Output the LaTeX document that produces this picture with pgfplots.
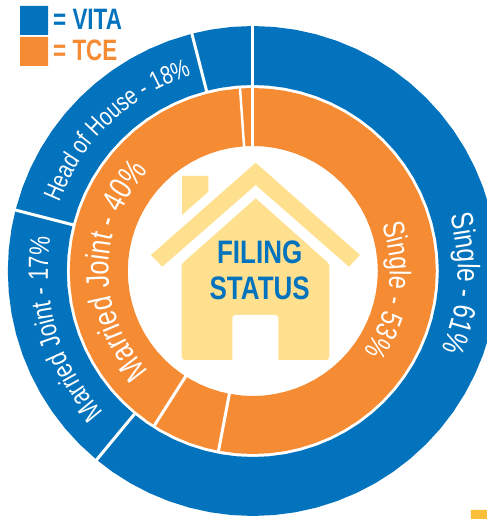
\documentclass[border=0pt]{standalone}
\usepackage{pgfplots}
\pgfplotsset{compat=1.18}
\usepackage{graphicx}
\usepackage{fontspec}
\usetikzlibrary{decorations.text}
\setmainfont[FakeStretch=0.78]{Liberation Sans}
\newfontfamily\narrowbold[FakeStretch=0.8]{Liberation Sans Bold}
\newfontfamily\legendbold[FakeStretch=0.76]{Liberation Sans Bold}
\definecolor{vita}{HTML}{0373BE}
\definecolor{tce}{HTML}{F58B33}
\definecolor{house}{HTML}{FEE08F}
\definecolor{mark}{HTML}{FDBF3A}
\begin{document}
\begin{tikzpicture}
\begin{axis}[
  name=main, at={(0,0)}, anchor=south west,
  scale only axis, width=487bp, height=519bp,
  xmin=-252.8, xmax=234.2, ymin=-248, ymax=271,
  hide axis, clip=true,
]
% outer ring (VITA): angle, radius
\addplot[fill=vita, draw=none, data cs=polar] coordinates {
(90,245)(85,245)(80,245)(75,245)(70,245)(65,245)(60,245)(55,245)(50,245)(45,245)(40,245)(35,245)(30,245)(25,245)(20,245)(15,245)(10,245)(5,245)(0,245)(-5,245)(-10,245)(-15,245)(-20,245)(-25,245)(-30,245)(-35,245)(-40,245)(-45,245)(-50,245)(-55,245)(-60,245)(-65,245)(-70,245)(-75,245)(-80,245)(-85,245)(-90,245)(-95,245)(-100,245)(-105,245)(-110,245)(-115,245)(-120,245)(-125,245)(-129.6,245)
(-129.6,186)(-125,186)(-120,186)(-115,186)(-110,186)(-105,186)(-100,186)(-95,186)(-90,186)(-85,186)(-80,186)(-75,186)(-70,186)(-65,186)(-60,186)(-55,186)(-50,186)(-45,186)(-40,186)(-35,186)(-30,186)(-25,186)(-20,186)(-15,186)(-10,186)(-5,186)(0,186)(5,186)(10,186)(15,186)(20,186)(25,186)(30,186)(35,186)(40,186)(45,186)(50,186)(55,186)(60,186)(65,186)(70,186)(75,186)(80,186)(85,186)(90,186)(90,245)};
\addplot[fill=vita, draw=none, data cs=polar] coordinates {
(230.4,245)(225,245)(220,245)(215,245)(210,245)(205,245)(200,245)(195,245)(190,245)(185,245)(180,245)(175,245)(170,245)(165.6,245)
(165.6,186)(170,186)(175,186)(180,186)(185,186)(190,186)(195,186)(200,186)(205,186)(210,186)(215,186)(220,186)(225,186)(230.4,186)(230.4,245)};
\addplot[fill=vita, draw=none, data cs=polar] coordinates {
(165.6,245)(160,245)(155,245)(150,245)(145,245)(140,245)(135,245)(130,245)(125,245)(120,245)(115,245)(110,245)(104.4,245)
(104.4,186)(110,186)(115,186)(120,186)(125,186)(130,186)(135,186)(140,186)(145,186)(150,186)(155,186)(160,186)(165.6,186)(165.6,245)};
\addplot[fill=vita, draw=none, data cs=polar] coordinates {
(104.4,245)(100,245)(95,245)(90,245)(90,186)(95,186)(100,186)(104.4,186)(104.4,245)};
% inner ring (TCE)
\addplot[fill=tce, draw=none, data cs=polar] coordinates {
(90,183)(85,183)(80,183)(75,183)(70,183)(65,183)(60,183)(55,183)(50,183)(45,183)(40,183)(35,183)(30,183)(25,183)(20,183)(15,183)(10,183)(5,183)(0,183)(-5,183)(-10,183)(-15,183)(-20,183)(-25,183)(-30,183)(-35,183)(-40,183)(-45,183)(-50,183)(-55,183)(-60,183)(-65,183)(-70,183)(-75,183)(-80,183)(-85,183)(-90,183)(-95,183)(-100.8,183)
(-100.8,125)(-95,125)(-90,125)(-85,125)(-80,125)(-75,125)(-70,125)(-65,125)(-60,125)(-55,125)(-50,125)(-45,125)(-40,125)(-35,125)(-30,125)(-25,125)(-20,125)(-15,125)(-10,125)(-5,125)(0,125)(5,125)(10,125)(15,125)(20,125)(25,125)(30,125)(35,125)(40,125)(45,125)(50,125)(55,125)(60,125)(65,125)(70,125)(75,125)(80,125)(85,125)(90,125)(90,183)};
\addplot[fill=tce, draw=none, data cs=polar] coordinates {
(259.2,183)(255,183)(250,183)(245,183)(240,183)(237.5,183)(237.5,125)(240,125)(245,125)(250,125)(255,125)(259.2,125)(259.2,183)};
\addplot[fill=tce, draw=none, data cs=polar] coordinates {
(237.5,183)(235,183)(230,183)(225,183)(220,183)(215,183)(210,183)(205,183)(200,183)(195,183)(190,183)(185,183)(180,183)(175,183)(170,183)(165,183)(160,183)(155,183)(150,183)(145,183)(140,183)(135,183)(130,183)(125,183)(120,183)(115,183)(110,183)(105,183)(100,183)(94,183)
(94,125)(100,125)(105,125)(110,125)(115,125)(120,125)(125,125)(130,125)(135,125)(140,125)(145,125)(150,125)(155,125)(160,125)(165,125)(170,125)(175,125)(180,125)(185,125)(190,125)(195,125)(200,125)(205,125)(210,125)(215,125)(220,125)(225,125)(230,125)(235,125)(237.5,125)(237.5,183)};
\addplot[fill=tce, draw=none, data cs=polar] coordinates {
(94,183)(90,183)(90,125)(94,125)(94,183)};
% white separators
\addplot[white, line width=3bp, data cs=polar] coordinates {(90,184)(90,250)};
\addplot[white, line width=3bp, data cs=polar] coordinates {(-129.6,184)(-129.6,250)};
\addplot[white, line width=3bp, data cs=polar] coordinates {(165.6,184)(165.6,250)};
\addplot[white, line width=3bp, data cs=polar] coordinates {(104.4,184)(104.4,250)};
\addplot[white, line width=3bp, data cs=polar] coordinates {(90,120)(90,184)};
\addplot[white, line width=2.5bp, data cs=polar] coordinates {(94,120)(94,184)};
\addplot[white, line width=3bp, data cs=polar] coordinates {(259.2,120)(259.2,184)};
\addplot[white, line width=3bp, data cs=polar] coordinates {(237.5,120)(237.5,184)};
% curved labels
\addplot[draw=none, data cs=polar, postaction={decorate}, decoration={text along path, text align=center, text color=white,
  text={|\fontsize{31bp}{36bp}\selectfont|Single - 61{\%}}}] coordinates {
(36.5,205)(31.5,205)(26.5,205)(21.5,205)(16.5,205)(11.5,205)(6.5,205)(1.5,205)(-3.5,205)(-8.5,205)(-13.5,205)(-18.5,205)(-23.5,205)(-28.5,205)(-33.5,205)(-38.5,205)(-43.5,205)};
\addplot[draw=none, data cs=polar, postaction={decorate}, decoration={text along path, text align=center, text color=white,
  text={|\fontsize{30bp}{35bp}\selectfont|Single - 53{\%}}}] coordinates {
(32,137)(27,137)(22,137)(17,137)(12,137)(7,137)(2,137)(-3,137)(-8,137)(-13,137)(-18,137)(-23,137)(-28,137)(-33,137)(-38,137)(-43,137)(-48,137)};
\addplot[draw=none, data cs=polar, postaction={decorate}, decoration={text along path, text align=center, text color=white,
  text={|\fontsize{32.5bp}{38bp}\selectfont|Married Joint - 40{\%}}}] coordinates {
(230,144)(225,144)(220,144)(215,144)(210,144)(205,144)(200,144)(195,144)(190,144)(185,144)(180,144)(175,144)(170,144)(165,144)(160,144)(155,144)(150,144)(145,144)(140,144)(135,144)(130,144)};
\addplot[draw=none, data cs=polar, postaction={decorate}, decoration={text along path, text align=center, text color=white,
  text={|\fontsize{28bp}{33bp}\selectfont|Married Joint - 17{\%}}}] coordinates {
(232,205)(227,205)(222,205)(217,205)(212,205)(207,205)(202,205)(197,205)(192,205)(187,205)(182,205)(177,205)(172,205)(167,205)(162,205)};
\addplot[draw=none, data cs=polar, postaction={decorate}, decoration={text along path, text align=center, text color=white,
  text={|\fontsize{25.5bp}{30bp}\selectfont|Head of House - 18{\%}}}] coordinates {
(169,205)(164,205)(159,205)(154,205)(149,205)(144,205)(139,205)(134,205)(129,205)(124,205)(119,205)(114,205)(109,205)(104,205)(99,205)};
% house
\addplot[fill=house, draw=none] coordinates {(-70.8,95)(-44.5,95)(-44.5,79.3)(-70.8,56)(-70.8,95)};
\addplot[fill=house, draw=none] coordinates {(-101.8,16)(2.9,108.3)(107.2,16)(96.2,4.3)(2.9,86)(-90.5,4.3)(-101.8,16)};
\addplot[fill=house, draw=none] coordinates {(-71.1,6)(-69.5,8.5)(2.9,72.7)(75,8.5)(76.5,6)(76.5,-86)(75.5,-88)(73.5,-89)(-68.1,-89)(-70.1,-88)(-71.1,-86)(-71.1,6)};
\addplot[fill=white, draw=none] coordinates {(-20.5,-89)(-20.5,-47)(-19.5,-45)(-17.5,-44)(22.5,-44)(24.5,-45)(25.5,-47)(25.5,-89)(-20.5,-89)};
% legend squares and corner mark
\addplot[fill=vita, draw=none] coordinates {(-232.8,265)(-204.8,265)(-204.8,236)(-232.8,236)(-232.8,265)};
\addplot[fill=tce, draw=none] coordinates {(-232.8,234)(-204.8,234)(-204.8,205)(-232.8,205)(-232.8,234)};
\addplot[fill=mark, draw=none] coordinates {(218,-239)(234.2,-239)(234.2,-248)(218,-248)(218,-239)};
% texts
\node[anchor=base, inner sep=0pt, text=vita] at (axis cs:6.9,7.7) {\fontsize{32.5bp}{38bp}\narrowbold FILING};
\node[anchor=base, inner sep=0pt, text=vita] at (axis cs:6.9,-29) {\fontsize{32.5bp}{38bp}\narrowbold STATUS};
\node[anchor=base west, inner sep=0pt, text=vita] at (axis cs:-199.8,241) {\fontsize{29.5bp}{34bp}\legendbold = VITA};
\node[anchor=base west, inner sep=0pt, text=tce] at (axis cs:-199.8,210.3) {\fontsize{29.5bp}{34bp}\legendbold = TCE};
\end{axis}
\pgfresetboundingbox
\path[use as bounding box] (0,0) rectangle (487bp,519bp);
\end{tikzpicture}
\end{document}
